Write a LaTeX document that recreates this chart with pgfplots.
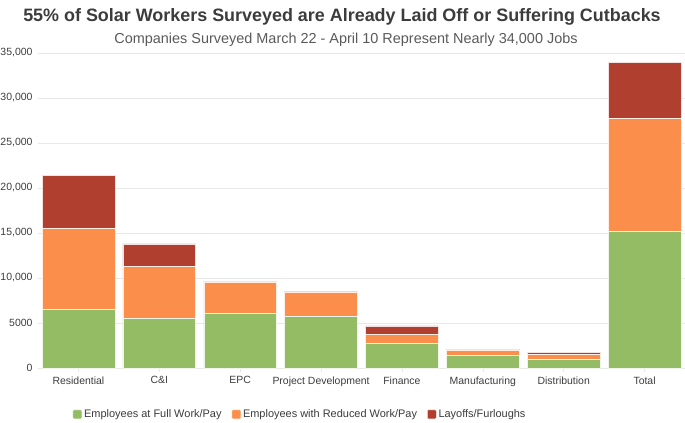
\documentclass[border=0pt]{standalone}
\usepackage{pgfplots}
\pgfplotsset{compat=1.18}
\usepackage{fontspec}
\setmainfont{Liberation Sans}
\definecolor{cgreen}{RGB}{148,188,100}
\definecolor{corange}{RGB}{250,142,74}
\definecolor{cred}{RGB}{177,63,47}
\definecolor{tgray}{RGB}{60,60,60}
\definecolor{sgray}{RGB}{90,90,90}
\definecolor{ggray}{RGB}{232,232,232}
\begin{document}
\begin{tikzpicture}
\path[use as bounding box] (-38bp,-55bp) rectangle (647bp,368bp);
\begin{axis}[
  at={(0,0)}, anchor=south west,
  scale only axis, width=647bp, height=315bp,
  ybar stacked, bar width=0.9,
  xmin=-0.5, xmax=7.5, ymin=0, ymax=35000,
  scaled y ticks=false,
  xtick={0,...,7},
  xticklabels={Residential,C\&I,EPC,Project Development,Finance,Manufacturing,Distribution,Total},
  ytick={0,5000,...,35000},
  yticklabels={0,5000,{10,000},{15,000},{20,000},{25,000},{30,000},{35,000}},
  ymajorgrids, grid style={ggray, line width=0.6pt},
  axis line style={draw=none},
  axis x line*=bottom,
  x axis line style={draw=ggray, line width=0.8pt},
  major x tick style={draw=ggray, line width=0.6pt},
  xtick pos=bottom, xtick align=outside, major tick length=4bp,
  ytick style={draw=none},
  tick label style={font=\fontsize{10.5}{12}\selectfont, text=tgray},
  yticklabel style={xshift=-2bp},
  xticklabel style={yshift=-1bp},
  legend style={at={(0.405,-0.147)}, anchor=center, draw=none, legend columns=3,
    font=\fontsize{11}{13}\selectfont, text=tgray,
    /tikz/every even column/.append style={column sep=8bp}},
  legend image code/.code={\fill[#1, rounded corners=1pt] (0bp,-4.5bp) rectangle (9bp,4.5bp);},
  clip=false,
]
\addplot[fill=cgreen, draw=white!85!cgreen, line width=0.5pt] coordinates {(0,6500) (1,5500) (2,6030) (3,5740) (4,2700) (5,1400) (6,960) (7,15200)};
\addplot[fill=corange, draw=white!85!corange, line width=0.5pt] coordinates {(0,9000) (1,5760) (2,3520) (3,2710) (4,1040) (5,530) (6,560) (7,12540)};
\addplot[fill=cred, draw=white!85!cred, line width=0.5pt] coordinates {(0,5900) (1,2540) (2,80) (3,70) (4,930) (5,140) (6,180) (7,6230)};
\legend{Employees at Full Work/Pay, Employees with Reduced Work/Pay, Layoffs/Furloughs}
\end{axis}
\node[font=\bfseries\fontsize{18}{20}\selectfont, text=tgray] at (304bp,351bp) {55\% of Solar Workers Surveyed are Already Laid Off or Suffering Cutbacks};
\node[font=\fontsize{14.5}{16}\selectfont, text=sgray] at (308bp,328bp) {Companies Surveyed March 22 - April 10 Represent Nearly 34,000 Jobs};
\end{tikzpicture}
\end{document}
